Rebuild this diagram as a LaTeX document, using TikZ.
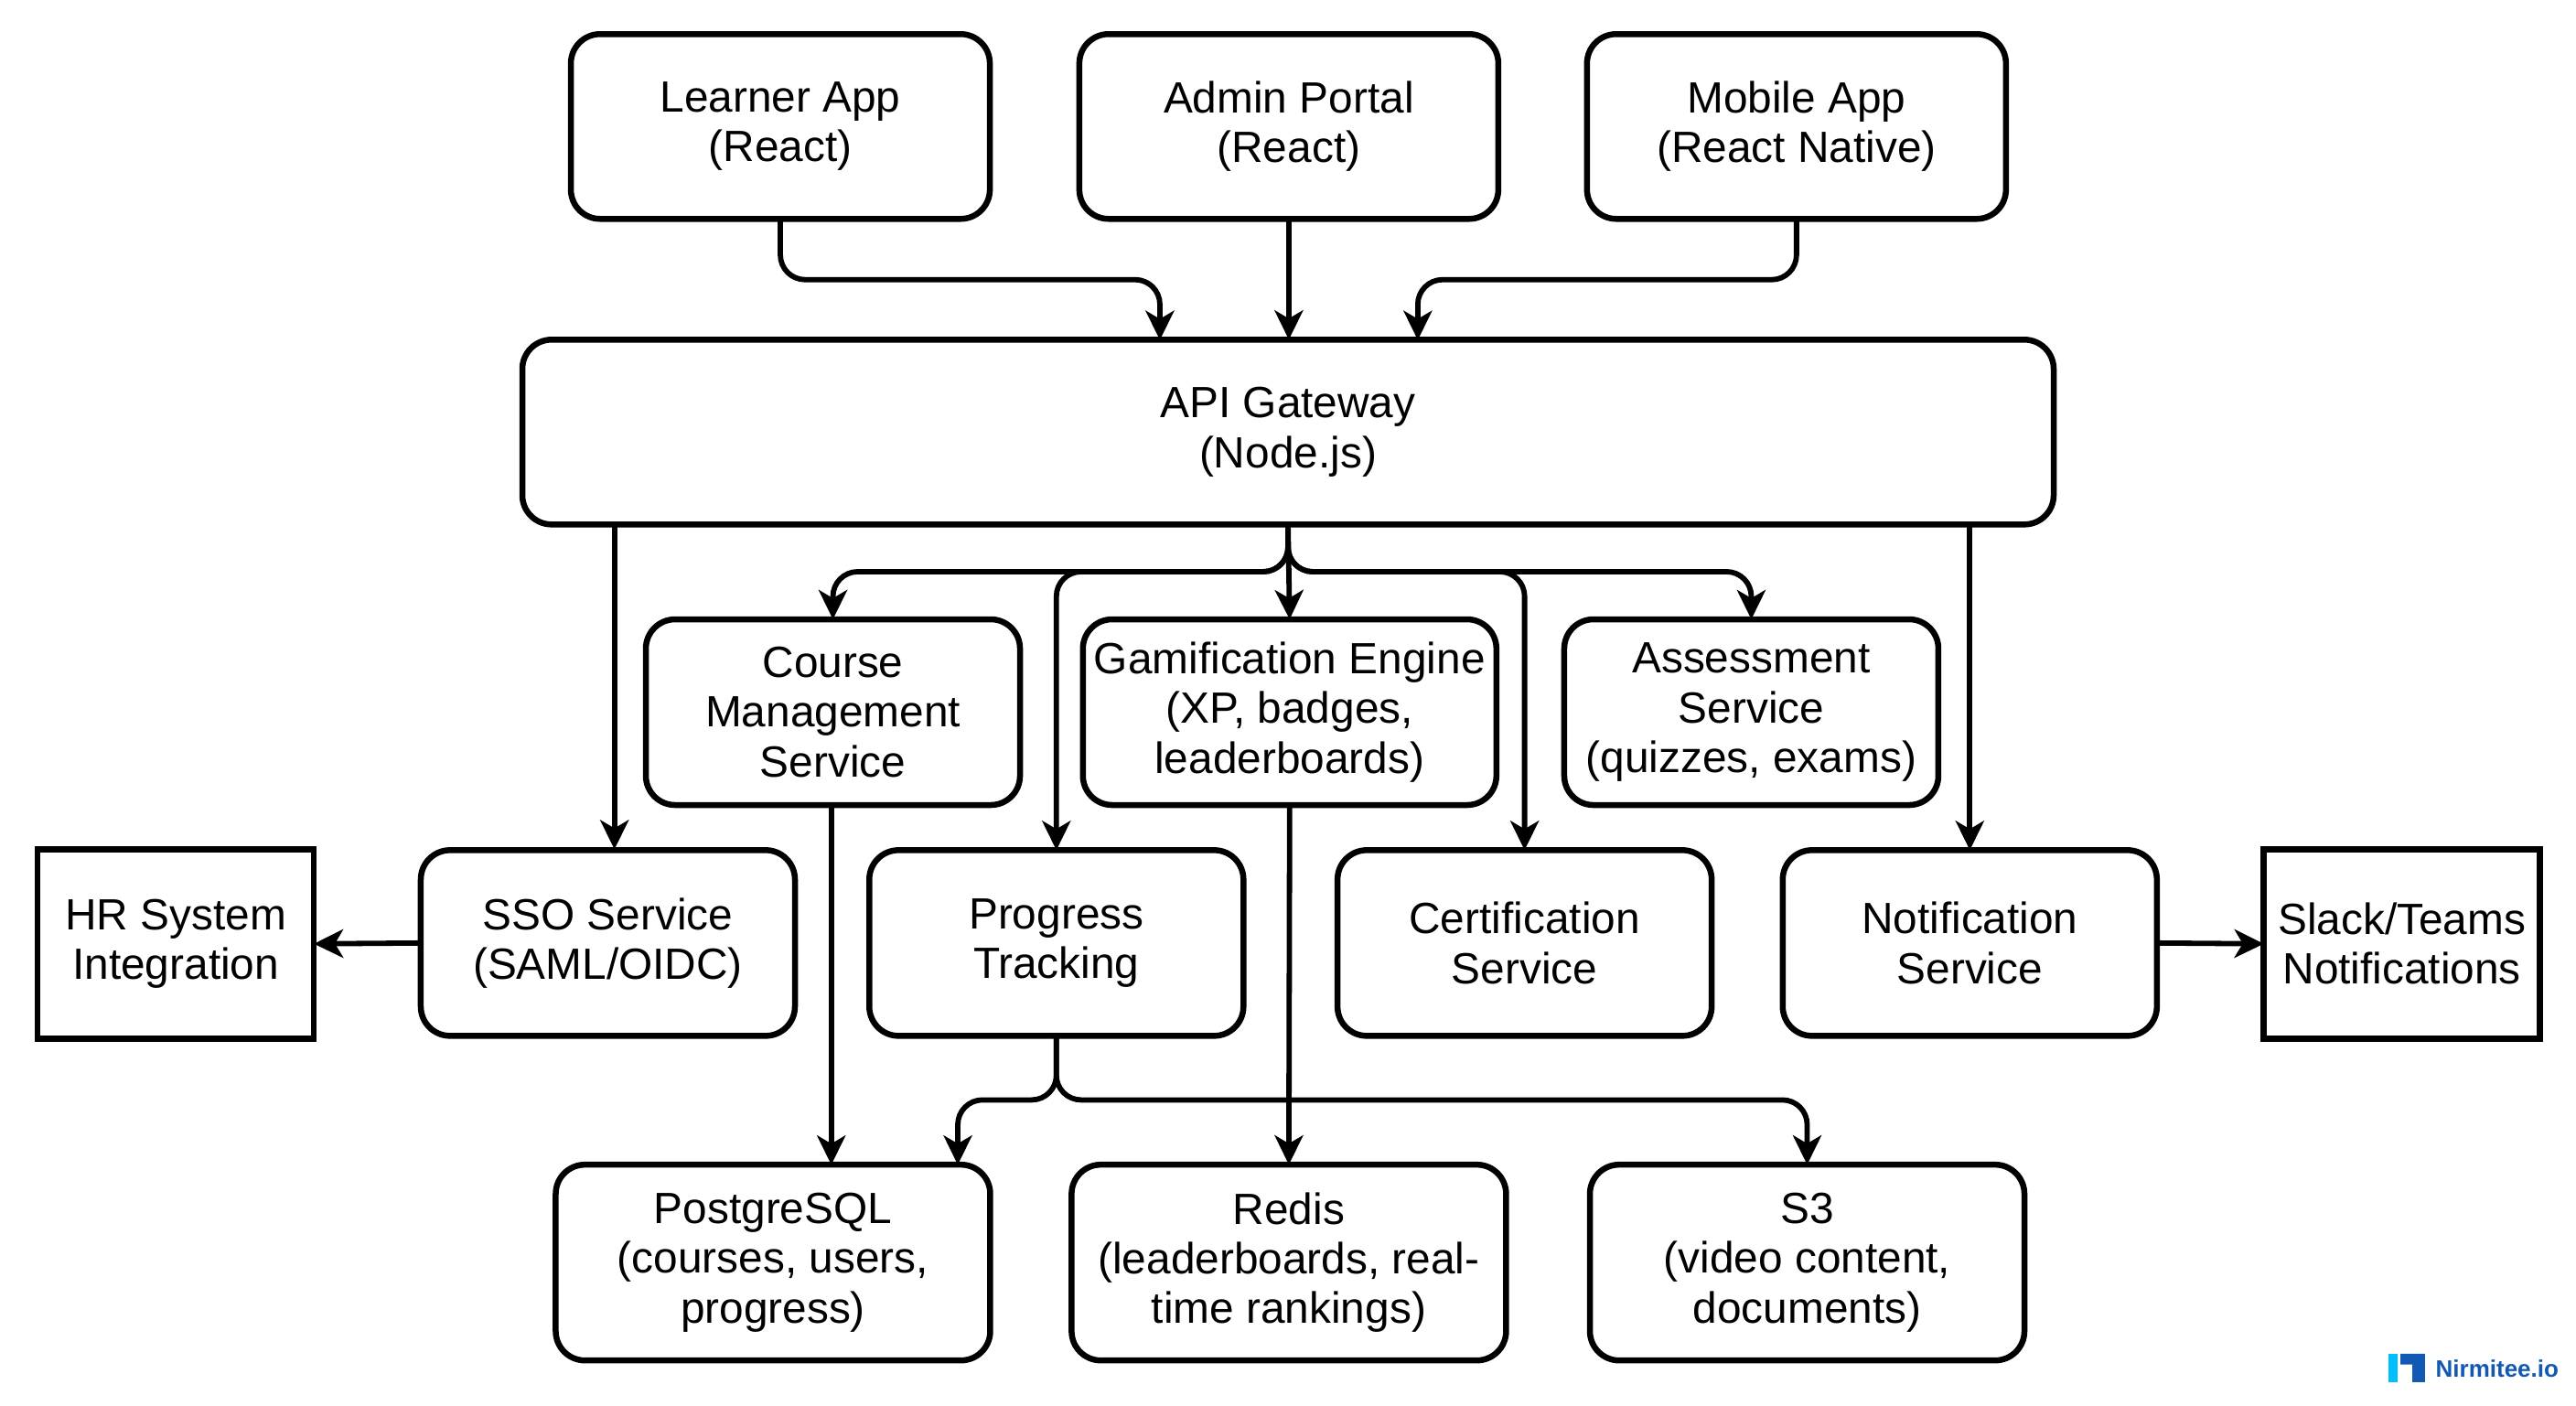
\documentclass[tikz,border=0pt]{standalone}
\usepackage{fontspec}
\setmainfont{Liberation Sans}
\usetikzlibrary{arrows.meta}
\tikzset{
    svc/.style={draw, line width=1.85pt, rounded corners=0.32cm, align=center, outer sep=0pt, inner sep=0pt,
        font=\fontsize{13.6}{15.4}\selectfont},
    tier/.style={svc, minimum width=4.58cm, minimum height=2.02cm},
    gatebox/.style={svc, minimum width=16.74cm, minimum height=2.02cm},
    svcbox/.style={svc, minimum width=4.09cm, minimum height=2.03cm},
    gamebox/.style={svc, minimum width=4.52cm, minimum height=2.03cm},
    storebox/.style={svc, minimum width=4.75cm, minimum height=2.14cm},
    extbox/.style={svc, rounded corners=0pt, minimum width=3.02cm, minimum height=2.07cm},
    conn/.style={-{Stealth[length=3.2mm,width=3.1mm,inset=0.9mm]}, line width=1.65pt, rounded corners=0.27cm},
}
\definecolor{logoblue}{HTML}{1259B3}
\definecolor{logocyan}{HTML}{00BFFF}
\begin{document}
\begin{tikzpicture}[x=0.01796cm,y=-0.01796cm]
\useasboundingbox (0,0) rectangle (1568,855.3);
% clients
\foreach \n/\c/\t in {learner/475/{Learner App\\(React)}, admin/784.5/{Admin Portal\\(React)}, mobile/1093.5/{Mobile App\\(React Native)}} {
    \node[tier] (\n) at (\c,77) {\t};
}
\node[gatebox] (gateway) at (784,263) {API Gateway\\(Node.js)};
% services, upper row
\node[svcbox] (course) at (507,433.5) {Course\\Management\\Service};
\node[gamebox] (game) at (785,433.5) {Gamification Engine\\(XP, badges,\\leaderboards)};
\node[svcbox] (assess) at (1066,433.5) {Assessment\\Service\\(quizzes, exams)};
% services, lower row
\foreach \n/\c/\t in {sso/370/{SSO Service\\(SAML/OIDC)}, progress/643/{Progress\\Tracking}, cert/928/{Certification\\Service}, notify/1199/{Notification\\Service}} {
    \node[svcbox] (\n) at (\c,574) {\t};
}
\node[extbox] (hr) at (107,574.5) {HR System\\Integration};
\node[extbox] (slack) at (1462,574.5) {Slack/Teams\\Notifications};
% stores
\node[storebox] (pg) at (470.5,768.5) {PostgreSQL\\(courses, users,\\progress)};
\node[storebox] (redis) at (784.5,768.5) {Redis\\(leaderboards, real-\\time rankings)};
\node[storebox] (s3) at (1100,768.5) {S3\\(video content,\\documents)};
% ends on the box edges that are not at an anchor
\coordinate (gwa) at (706,207);
\coordinate (gwc) at (863,207);
\coordinate (gwsso) at (374,319);
\coordinate (gwnot) at (1199,319);
\coordinate (ssoin) at (374,517);
\coordinate (pgc) at (506,709);
\coordinate (pgp) at (583,709);
\coordinate (coursec) at (506,490);
\coordinate (bar) at (784,348);
% clients to gateway
\draw[conn] (learner.south) -- ++(0,37) -| (gwa);
\draw[conn] (admin.south) -- (admin.south |- gateway.north);
\draw[conn] (mobile.south) -- ++(0,37) -| (gwc);
% gateway to services
\draw[conn] (gwsso) -- (ssoin);
\draw[conn] (gwnot) -- (notify.north);
\draw[conn] (gateway.south) |- (bar) -| (course.north);
\draw[conn] (gateway.south) |- (bar) -| (assess.north);
\draw[conn] (gateway.south) -- (game.north);
\draw[conn] (gateway.south) |- (bar) -| (progress.north);
\draw[conn] (gateway.south) |- (bar) -| (cert.north);
% outward links
\draw[conn] (sso.west) -- (hr.east);
\draw[conn] (notify.east) -- (slack.west);
% services to stores
\draw[conn] (coursec) -- (pgc);
\draw[conn] (game.south) -- (redis.north);
\draw[conn] (progress.south) -- ++(0,39) -| (pgp);
\draw[conn] (progress.south) -- ++(0,39) -| (s3.north);
% logo
\fill[logocyan] (1453.8,824) rectangle (1459.4,841.3);
\fill[logoblue] (1461.2,824) -- (1476,824) -- (1476,835.6) -- (1476,835.6) -- (1476,841.3) -- (1468.4,841.3) -- (1468.4,830.5) -- (1461.2,830.5) -- cycle;
\node[font=\fontsize{7.4}{9}\selectfont\bfseries, text=logoblue, inner sep=0pt] (logotext) at (1520,833) {Nirmitee.io};
\end{tikzpicture}
\end{document}
